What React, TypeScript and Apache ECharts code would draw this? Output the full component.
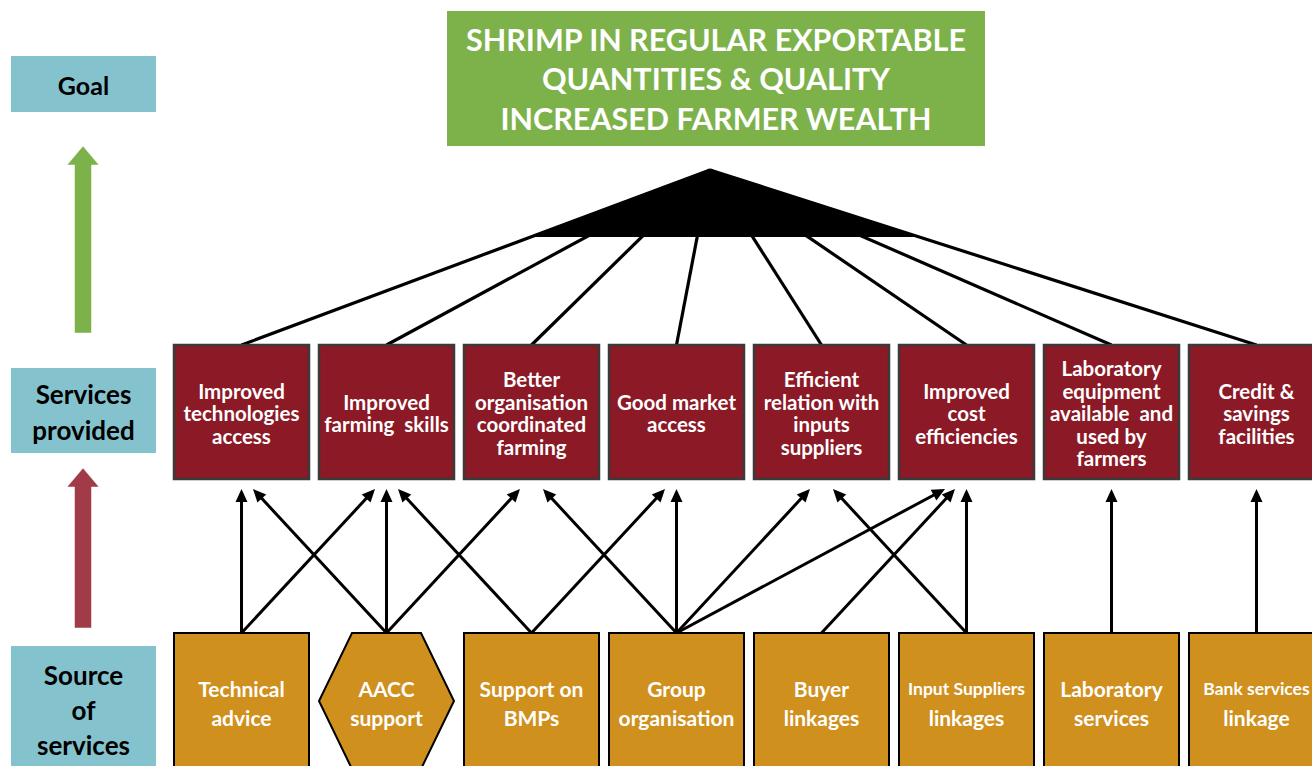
import React, { useEffect, useRef } from "react";
import * as echarts from "echarts";

// ---------- data ----------
const GOAL_LINES = ["SHRIMP IN REGULAR EXPORTABLE", "QUANTITIES & QUALITY", "INCREASED FARMER WEALTH"];
const LEVEL_LABELS = ["Goal", "Services\nprovided", "Source\nof\nservices"];
const SERVICES = [
  "Improved\ntechnologies\naccess",
  "Improved\nfarming  skills",
  "Better\norganisation\ncoordinated\nfarming",
  "Good market\naccess",
  "Efficient\nrelation with\ninputs\nsuppliers",
  "Improved\ncost\nefficiencies",
  "Laboratory\nequipment\navailable  and\nused by\nfarmers",
  "Credit &\nsavings\nfacilities",
];
const SOURCES = [
  "Technical\nadvice",
  "AACC\nsupport",
  "Support on\nBMPs",
  "Group\norganisation",
  "Buyer\nlinkages",
  "Input Suppliers\nlinkages",
  "Laboratory\nservices",
  "Bank services\nlinkage",
];
const SOURCE_SHAPES = ["box", "hexagon", "box", "box", "box", "box", "box", "box"];
// [source index, service index]
const LINKS: [number, number][] = [
  [0, 0], [0, 1],
  [1, 0], [1, 1], [1, 2],
  [2, 1], [2, 3],
  [3, 2], [3, 3], [3, 4], [3, 5],
  [4, 5],
  [5, 4], [5, 5],
  [6, 6],
  [7, 7],
];

// ---------- layout & styles ----------
const W = 1312, H = 766;
const COL_X0 = 174, COL_STEP = 145, BOX_W = 135;
const colLeft = (i: number) => COL_X0 + i * COL_STEP;
const colCenter = (i: number) => colLeft(i) + BOX_W / 2;
const SVC_TOP = 345, SVC_BOT = 479;
const SRC_TOP = 633, SRC_BOT = 805;
const TIP_Y = 489;
const APEX = [710, 170];
const FAN_BASE_Y = 237;
const GOAL_BOX = { x: 447, y: 11, w: 538, h: 135 };
const LEVEL_BOXES = [
  { x: 11, y: 56, w: 145, h: 56, fs: 25, lh: 30 },
  { x: 11, y: 368, w: 145, h: 85, fs: 26, lh: 36 },
  { x: 11, y: 646, w: 145, h: 126, fs: 26, lh: 35 },
];
const LEVEL_ARROWS = [
  { x: 83, tip: 146, base: 333, color: "#7DB24A" },
  { x: 83, tip: 468, base: 628, color: "#A13B48" },
];
const FONT = "Lato";
const TEAL = "#84C3CE";
const GREEN = "#7DB24A";
const MAROON = "#8B1926";
const ORANGE = "#D0901E";

function multiLineText(api: any, label: string, cx: number, cy: number, lh: number, fsFor: (s: string) => number, fill: string) {
  const lines = label.split("\n");
  const n = lines.length;
  return lines.map((ln, k) => {
    const p = api.coord([cx, cy + (k - (n - 1) / 2) * lh]);
    return {
      type: "text",
      style: {
        text: ln,
        x: p[0],
        y: p[1],
        fill,
        fontSize: fsFor(ln),
        fontWeight: "bold",
        fontFamily: FONT,
        align: "center",
        verticalAlign: "middle",
      },
    };
  });
}

function arrow(api: any, x1: number, y1: number, x2: number, y2: number, lw: number) {
  const headLen = 13, headW = 6;
  const dx = x2 - x1, dy = y2 - y1;
  const len = Math.hypot(dx, dy);
  const ux = dx / len, uy = dy / len;
  const bx = x2 - ux * headLen, by = y2 - uy * headLen;
  const px = -uy, py = ux;
  const a = api.coord([x1, y1]);
  const b = api.coord([bx + ux * 2, by + uy * 2]);
  return [
    { type: "line", shape: { x1: a[0], y1: a[1], x2: b[0], y2: b[1] }, style: { stroke: "#000", lineWidth: lw } },
    {
      type: "polygon",
      shape: {
        points: [
          api.coord([x2, y2]),
          api.coord([bx + px * headW, by + py * headW]),
          api.coord([bx - px * headW, by - py * headW]),
        ],
      },
      style: { fill: "#000" },
    },
  ];
}

export default function App() {
  const ref = useRef<HTMLDivElement>(null);
  useEffect(() => {
    if (!ref.current) return;
    const chart = echarts.init(ref.current, undefined, { renderer: "svg" });

    const levelSeries = {
      type: "custom",
      name: "levels",
      data: LEVEL_LABELS.map((_, i) => [i, 0]),
      renderItem: (params: any, api: any) => {
        const i = params.dataIndex;
        const b = LEVEL_BOXES[i];
        const tl = api.coord([b.x, b.y]);
        return {
          type: "group",
          children: [
            { type: "rect", shape: { x: tl[0], y: tl[1], width: b.w, height: b.h }, style: { fill: TEAL } },
            ...multiLineText(api, LEVEL_LABELS[i], b.x + b.w / 2, b.y + b.h / 2 + 1, b.lh, () => b.fs, "#000"),
          ],
        };
      },
    };

    const levelArrowSeries = {
      type: "custom",
      name: "levelArrows",
      data: LEVEL_ARROWS.map((_, i) => [i, 0]),
      renderItem: (params: any, api: any) => {
        const a = LEVEL_ARROWS[params.dataIndex];
        const hb = a.tip + 19;
        const pts = [
          [a.x, a.tip], [a.x + 16, hb], [a.x + 8.5, hb], [a.x + 8.5, a.base],
          [a.x - 8.5, a.base], [a.x - 8.5, hb], [a.x - 16, hb],
        ].map((p) => api.coord(p));
        return { type: "polygon", shape: { points: pts }, style: { fill: a.color, stroke: "rgba(255,255,255,0.5)", lineWidth: 1 } };
      },
    };

    const goalSeries = {
      type: "custom",
      name: "goal",
      data: [[0, 0]],
      renderItem: (params: any, api: any) => {
        const tl = api.coord([GOAL_BOX.x, GOAL_BOX.y]);
        return {
          type: "group",
          children: [
            { type: "rect", shape: { x: tl[0], y: tl[1], width: GOAL_BOX.w, height: GOAL_BOX.h }, style: { fill: GREEN } },
            ...multiLineText(api, GOAL_LINES.join("\n"), GOAL_BOX.x + GOAL_BOX.w / 2, 78, 39.5, () => 30.5, "#fff"),
          ],
        };
      },
    };

    const fanSeries = {
      type: "custom",
      name: "fan",
      data: SERVICES.map((_, i) => [i, 0]),
      renderItem: (params: any, api: any) => {
        const i = params.dataIndex;
        const a = api.coord([colCenter(i), SVC_TOP]);
        const b = api.coord(APEX);
        const children: any[] = [
          { type: "line", shape: { x1: a[0], y1: a[1], x2: b[0], y2: b[1] }, style: { stroke: "#000", lineWidth: 3.2 } },
        ];
        if (i === 0) {
          const last = SERVICES.length - 1;
          const xAt = (cx: number) => cx + (APEX[0] - cx) * ((SVC_TOP - FAN_BASE_Y) / (SVC_TOP - APEX[1]));
          children.push({
            type: "polygon",
            shape: {
              points: [api.coord(APEX), api.coord([xAt(colCenter(0)), FAN_BASE_Y]), api.coord([xAt(colCenter(last)), FAN_BASE_Y])],
            },
            style: { fill: "#000" },
          });
        }
        return { type: "group", children };
      },
    };

    const serviceSeries = {
      type: "custom",
      name: "services",
      data: SERVICES.map((_, i) => [i, 0]),
      renderItem: (params: any, api: any) => {
        const i = params.dataIndex;
        const tl = api.coord([colLeft(i), SVC_TOP]);
        const br = api.coord([colLeft(i) + BOX_W, SVC_BOT]);
        return {
          type: "group",
          children: [
            {
              type: "rect",
              shape: { x: tl[0], y: tl[1], width: br[0] - tl[0], height: br[1] - tl[1] },
              style: { fill: MAROON, stroke: "#3a3a3a", lineWidth: 2.5 },
            },
            ...multiLineText(api, SERVICES[i], colCenter(i), (SVC_TOP + SVC_BOT) / 2 + 1, 22.5, () => 20.5, "#fff"),
          ],
        };
      },
    };

    const linkSeries = {
      type: "custom",
      name: "links",
      data: LINKS.map((_, i) => [i, 0]),
      renderItem: (params: any, api: any) => {
        const [s, t] = LINKS[params.dataIndex];
        const diff = t - s;
        const off = diff === 0 ? 0 : -Math.sign(diff) * (11.5 + 10 * (Math.abs(diff) - 1));
        return { type: "group", children: arrow(api, colCenter(s), SRC_TOP, colCenter(t) + off, TIP_Y, 3) };
      },
    };

    const sourceSeries = {
      type: "custom",
      name: "sources",
      data: SOURCES.map((_, i) => [i, 0]),
      renderItem: (params: any, api: any) => {
        const i = params.dataIndex;
        const L = colLeft(i), R = colLeft(i) + BOX_W;
        let shape: any;
        if (SOURCE_SHAPES[i] === "hexagon") {
          const mid = SRC_TOP + 68;
          const pts = [
            [L + 33, SRC_TOP], [R - 33, SRC_TOP], [R, mid],
            [R - 33, SRC_TOP + 136], [L + 33, SRC_TOP + 136], [L, mid],
          ].map((p) => api.coord(p));
          shape = { type: "polygon", shape: { points: pts }, style: { fill: ORANGE, stroke: "#000", lineWidth: 2 } };
        } else {
          const tl = api.coord([L, SRC_TOP]);
          const br = api.coord([R, SRC_BOT]);
          shape = {
            type: "rect",
            shape: { x: tl[0], y: tl[1], width: br[0] - tl[0], height: br[1] - tl[1] },
            style: { fill: ORANGE, stroke: "#000", lineWidth: 2 },
          };
        }
        return {
          type: "group",
          children: [
            shape,
            ...multiLineText(api, SOURCES[i], colCenter(i), 703, 29, (ln) => (ln.length > 12 ? 17.5 : 21), "#fff"),
          ],
        };
      },
    };

    chart.setOption({
      animation: false,
      backgroundColor: "#fff",
      grid: { left: 0, right: 0, top: 0, bottom: 0 },
      xAxis: { type: "value", min: 0, max: W, show: false },
      yAxis: { type: "value", min: 0, max: H, inverse: true, show: false },
      series: [levelSeries, levelArrowSeries, goalSeries, fanSeries, linkSeries, serviceSeries, sourceSeries].map((s) => ({
        ...s,
        clip: false,
        silent: true,
      })),
    });
    return () => chart.dispose();
  }, []);

  return (
    <div
      ref={ref}
      style={{ position: "fixed", left: 0, top: 0, width: W, height: H, background: "#fff" }}
    />
  );
}
